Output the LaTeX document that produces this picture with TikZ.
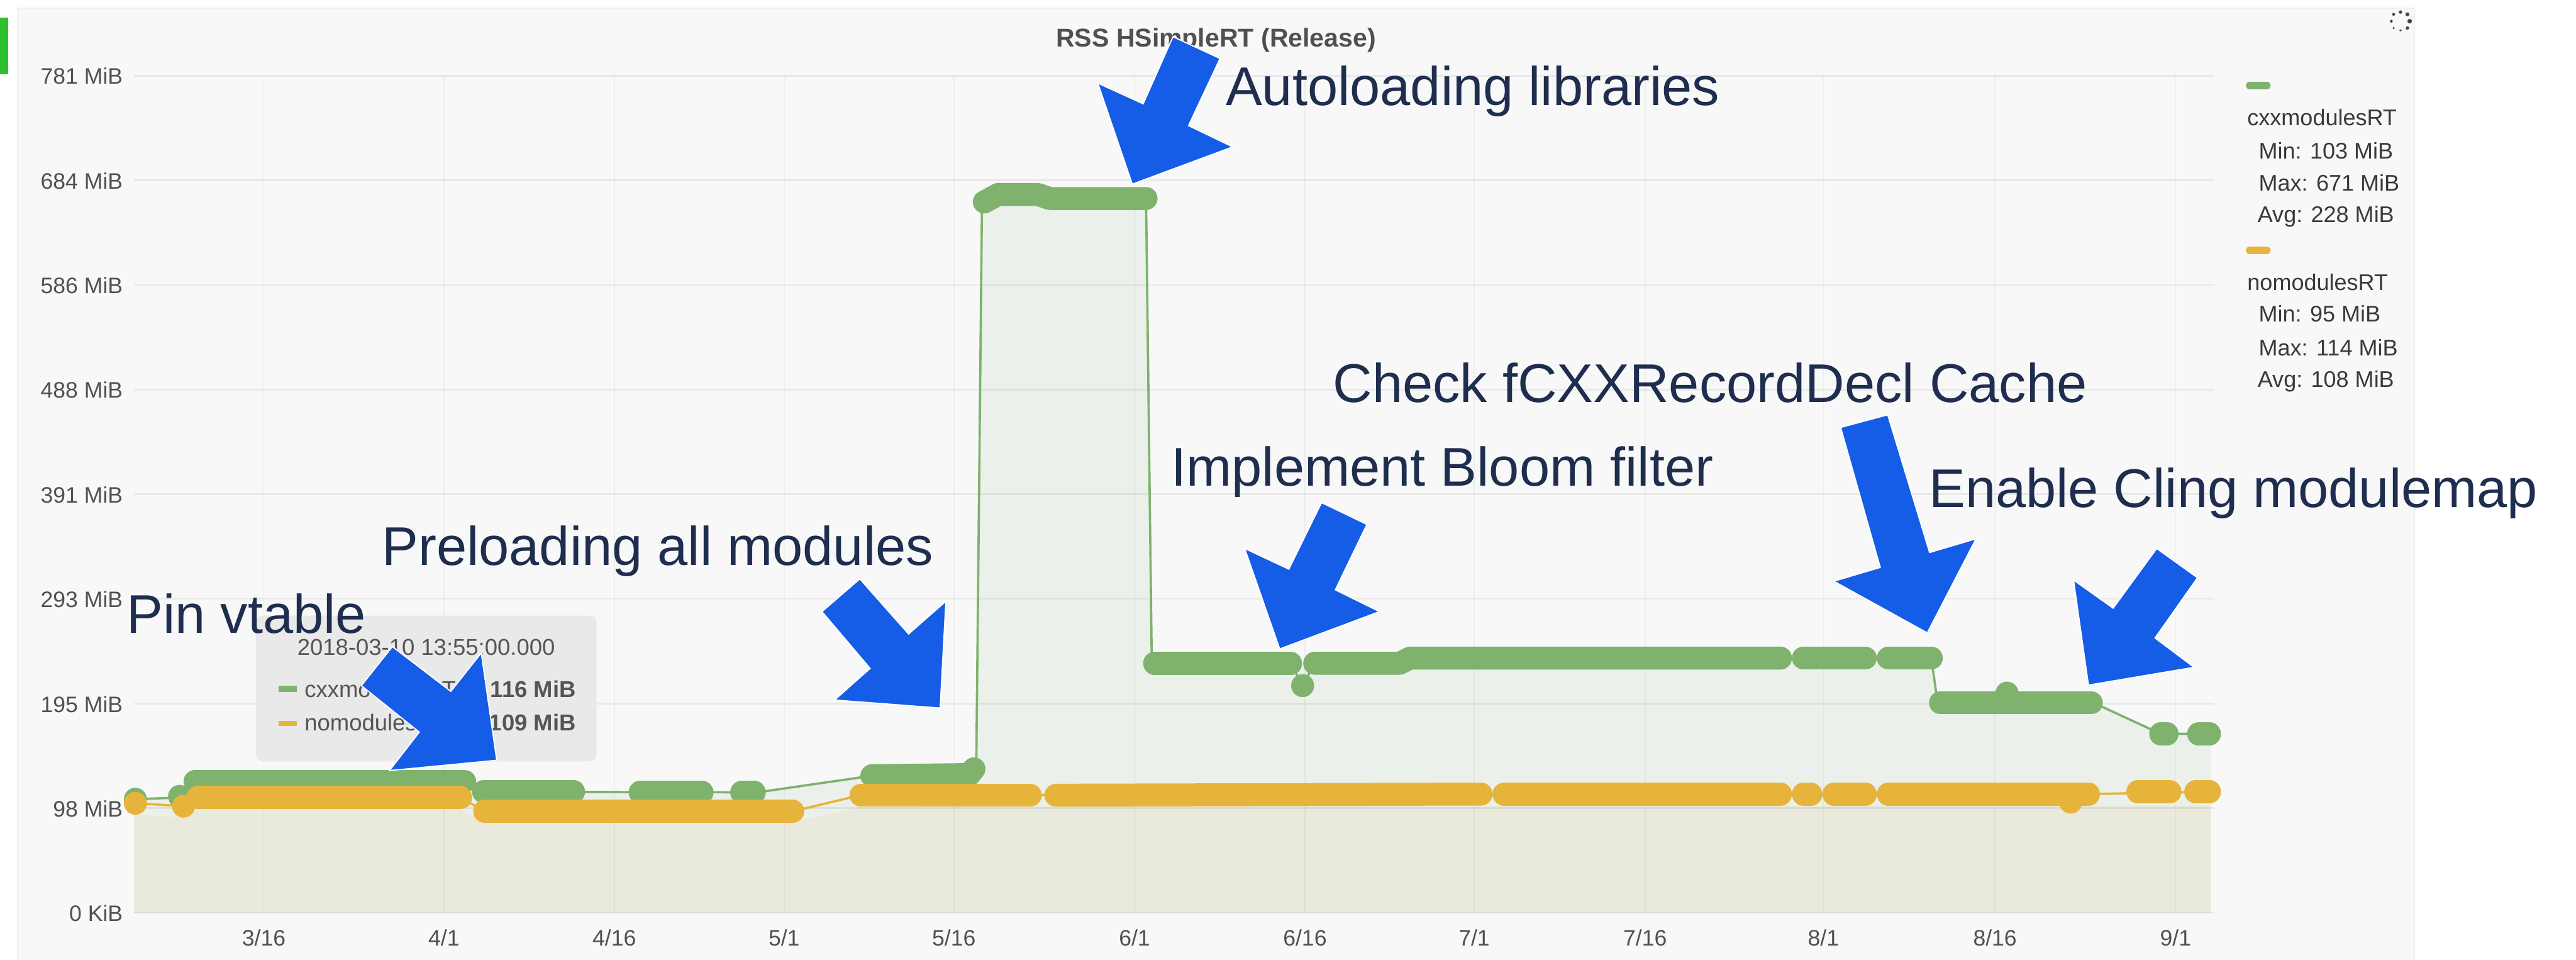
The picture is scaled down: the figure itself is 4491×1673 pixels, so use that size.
\documentclass[tikz,border=0pt]{standalone}
\usepackage{fontspec}
\setmainfont{Liberation Sans}

\definecolor{panelbg}{HTML}{F8F8F8}
\definecolor{panelrule}{HTML}{EEF1EF}
\definecolor{seriesA}{HTML}{7EB26D}
\definecolor{seriesB}{HTML}{E6B43A}
\definecolor{fillA}{HTML}{EBF0EA}
\definecolor{fillB}{HTML}{E9E9DC}
\definecolor{axistext}{HTML}{505050}
\definecolor{legendtext}{HTML}{3A3A3A}
\definecolor{tiptxt}{HTML}{555555}
\definecolor{tipbg}{HTML}{E9E9E9}
\definecolor{note}{HTML}{1F2E4F}
\definecolor{pointerblue}{HTML}{155CE6}
\definecolor{flag}{HTML}{2CC12C}
\definecolor{spin}{HTML}{444444}

\begin{document}
\begin{tikzpicture}[x=0.2pt,y=-0.2pt,
  notetext/.style={anchor=base west,inner sep=0pt,text=note,font=\fontsize{19}{22}\selectfont},
  ylab/.style={anchor=base east,inner sep=0pt,text=axistext,font=\fontsize{7.8}{9}\selectfont},
  xlab/.style={anchor=base,inner sep=0pt,text=axistext,font=\fontsize{7.8}{9}\selectfont},
  legname/.style={anchor=base west,inner sep=0pt,text=legendtext,font=\fontsize{7.9}{9}\selectfont},
  tiptext/.style={inner sep=0pt,text=tiptxt,font=\fontsize{8}{9}\selectfont},
  hgrid/.style={black,opacity=0.06,line width=0.6pt},
  vgrid/.style={black,opacity=0.045,line width=0.4pt},
  band/.style={line width=8pt,line cap=round,line join=round},
  trace/.style={line width=0.8pt,line join=round},
  swatch/.style={line width=2.6pt,line cap=round},
  pointer/.style={fill=pointerblue,draw=white,line width=0.4pt,line join=miter},
]
% ---- canvas and panel
\fill[white] (0,0) rectangle (4491,1673);
\useasboundingbox (0,0) rectangle (4491,1673);
\fill[flag] (0,31) rectangle (14,129);
\draw[panelrule,line width=0.4pt,fill=panelbg] (31,14) rectangle (4209,1690);

% ---- area fills under both series
\fill[fillA] (234,1591) -- (234,1395) -- (313,1390) -- (340,1362) -- (810,1362)
  -- (840,1380) -- (1320,1381) -- (1500,1355) -- (1690,1350) -- (1702,1340)
  -- (1712,352) -- (1740,339) -- (1810,339) -- (1830,346) -- (1998,346)
  -- (2008,1156) -- (2440,1156) -- (2458,1147) -- (3367,1147) -- (3378,1225)
  -- (3650,1225) -- (3767,1279) -- (3854,1279) -- (3854,1591) -- cycle;
\fill[fillB] (234,1591) -- (234,1420) -- (320,1425) -- (345,1410) -- (803,1410)
  -- (845,1434) -- (1382,1434) -- (1500,1406) -- (3854,1404) -- (3854,1591) -- cycle;

% ---- grid
\foreach \yy in {1591,1408.6,1226.2,1043.8,861.4,679,496.6,314.2,131.8}
  \draw[hgrid] (234,\yy) -- (3860,\yy);
\foreach \xx in {460,774,1071,1367,1663,1978,2275,2570,2868,3179,3478,3793}
  \draw[vgrid] (\xx,131.8) -- (\xx,1591);

% ---- axis labels
\foreach \yy/\lab [count=\i] in {1591/0 KiB,1408.6/98 MiB,1226.2/195 MiB,1043.8/293 MiB,
    861.4/391 MiB,679/488 MiB,496.6/586 MiB,314.2/684 MiB,131.8/781 MiB}
  \node[ylab] (ytick\i) at (215,\yy+15) {\lab};
\foreach \xx/\lab [count=\i] in {460/3\slash 16,774/4\slash 1,1071/4\slash 16,1367/5\slash 1,
    1663/5\slash 16,1978/6\slash 1,2275/6\slash 16,2570/7\slash 1,2868/7\slash 16,
    3179/8\slash 1,3478/8\slash 16,3793/9\slash 1}
  \node[xlab] (xtick\i) at (\xx,1648) {\lab};

% ---- title
\node[anchor=base,inner sep=0pt,text=axistext,font=\bfseries\fontsize{9}{11}\selectfont]
  (title) at (2120,82) {RSS HSimpleRT (Release)};

% ---- series: cxxmodulesRT
\draw[seriesA,trace] (236,1393) -- (313,1390) -- (340,1362) -- (810,1362) -- (840,1380)
  -- (1320,1381) -- (1500,1355) -- (1690,1350) -- (1702,1340) -- (1712,352)
  -- (1740,339) -- (1810,339) -- (1830,346) -- (1998,346) -- (2008,1156)
  -- (2250,1156) -- (2271,1195) -- (2292,1156) -- (2440,1156) -- (2458,1147)
  -- (3367,1147) -- (3378,1225) -- (3650,1225) -- (3767,1279) -- (3852,1279);
\draw[seriesA,band] (340,1362) -- (810,1362);
\draw[seriesA,band] (843,1380) -- (1000,1380);
\draw[seriesA,band] (1116,1381) -- (1224,1381);
\draw[seriesA,band] (1293,1381) -- (1315,1381);
\draw[seriesA,band] (1520,1352) -- (1690,1350) -- (1698,1340);
\draw[seriesA,band] (1716,352) -- (1740,339) -- (1810,339) -- (1830,346) -- (1998,346);
\draw[seriesA,band] (2013,1156) -- (2250,1156);
\draw[seriesA,band] (2292,1156) -- (2440,1156) -- (2458,1147) -- (3104,1147);
\draw[seriesA,band] (3144,1147) -- (3252,1147);
\draw[seriesA,band] (3292,1147) -- (3367,1147);
\draw[seriesA,band] (3383,1225) -- (3646,1225);
\draw[seriesA,band] (3767,1279) -- (3778,1279);
\draw[seriesA,band] (3833,1279) -- (3852,1279);
\foreach \px/\py in {236/1393,313/1388,2271/1195,3499/1208}
  \fill[seriesA] (\px,\py) circle[radius=4pt];

% ---- series: nomodulesRT
\draw[seriesB,trace] (236,1400) -- (320,1405) -- (345,1390) -- (803,1390) -- (845,1414)
  -- (1382,1414) -- (1500,1386) -- (3641,1384) -- (3852,1380);
\draw[seriesB,band] (345,1390) -- (803,1390);
\draw[seriesB,band] (845,1414) -- (1382,1414);
\draw[seriesB,band] (1501,1386) -- (1796,1386);
\draw[seriesB,band] (1841,1386) -- (2582,1384);
\draw[seriesB,band] (2622,1384) -- (3104,1384);
\draw[seriesB,band] (3144,1384) -- (3157,1384);
\draw[seriesB,band] (3197,1384) -- (3252,1384);
\draw[seriesB,band] (3292,1384) -- (3641,1384);
\draw[seriesB,band] (3727,1380) -- (3783,1380);
\draw[seriesB,band] (3828,1380) -- (3852,1380);
\foreach \px/\py in {236/1400,320/1405,3610/1398}
  \fill[seriesB] (\px,\py) circle[radius=4pt];

% ---- legend
\draw[seriesA,swatch] (3922,149) -- (3952,149);
\node[legname] (legA)    at (3917,219) {cxxmodulesRT};
\node[legname] (legAmin) at (3937,277) {Min: 103 MiB};
\node[legname] (legAmax) at (3937,333) {Max: 671 MiB};
\node[legname] (legAavg) at (3935,388) {Avg: 228 MiB};
\draw[seriesB,swatch] (3922,436) -- (3952,436);
\node[legname] (legB)    at (3917,506) {nomodulesRT};
\node[legname] (legBmin) at (3937,561) {Min: 95 MiB};
\node[legname] (legBmax) at (3937,620) {Max: 114 MiB};
\node[legname] (legBavg) at (3935,675) {Avg: 108 MiB};

% ---- loading spinner
\foreach \px/\py/\r in {4185/21/0.6,4197/25/0.7,4201/37/0.8,4197/49/0.6,
    4185/53/0.4,4173/49/0.4,4169/37/0.5,4173/25/0.5}
  \fill[spin] (\px,\py) circle[radius=\r pt];

% ---- hover tooltip
\fill[tipbg,rounded corners=2.4pt] (446,1073) rectangle (1040,1327);
\node[tiptext,anchor=base] (tipdate) at (743,1142) {2018-03-10 13:55:00.000};
\fill[seriesA] (486,1195) rectangle (518,1206);
\node[tiptext,anchor=base west] (tipA) at (530,1215) {cxxmodulesRT:};
\node[tiptext,anchor=base east,font=\bfseries\fontsize{8}{9}\selectfont] (tipAval) at (1005,1215) {116 MiB};
\fill[seriesB] (486,1256) rectangle (518,1265);
\node[tiptext,anchor=base west] (tipB) at (530,1273) {nomodulesRT:};
\node[tiptext,anchor=base east,font=\bfseries\fontsize{8}{9}\selectfont] (tipBval) at (1005,1273) {109 MiB};

% ---- annotation arrows
\filldraw[pointer] (630,1195) -- (684,1127) -- (786,1205) -- (839,1138) -- (866,1325)
  -- (679,1343) -- (731,1276) -- cycle;
\filldraw[pointer] (1499,1009) -- (1584,1105) -- (1649,1048) -- (1639,1234)
  -- (1455,1220) -- (1517,1165) -- (1433,1066) -- cycle;
\filldraw[pointer] (2045,64) -- (2127,102) -- (2072,219) -- (2149,256) -- (1974,321)
  -- (1914,145) -- (1993,181) -- cycle;
\filldraw[pointer] (2304,876) -- (2383,914) -- (2328,1028) -- (2405,1066) -- (2231,1131)
  -- (2170,956) -- (2247,992) -- cycle;
\filldraw[pointer] (3291,723) -- (3364,963) -- (3445,939) -- (3360,1103) -- (3197,1013)
  -- (3278,989) -- (3209,745) -- cycle;
\filldraw[pointer] (3760,956) -- (3831,1007) -- (3757,1112) -- (3825,1163) -- (3641,1194)
  -- (3615,1011) -- (3684,1060) -- cycle;

% ---- annotation labels
\node[notetext] (pin)     at (220,1104)  {Pin vtable};
\node[notetext] (preload) at (665,985)   {Preloading all modules};
\node[notetext] (autold)  at (2136,184)  {Autoloading libraries};
\node[notetext] (bloom)   at (2041,847)  {Implement Bloom filter};
\node[notetext] (cache)   at (2323,701)  {Check fCXXRecordDecl Cache};
\node[notetext] (cling)   at (3362,884)  {Enable Cling modulemap};
\end{tikzpicture}
\end{document}
